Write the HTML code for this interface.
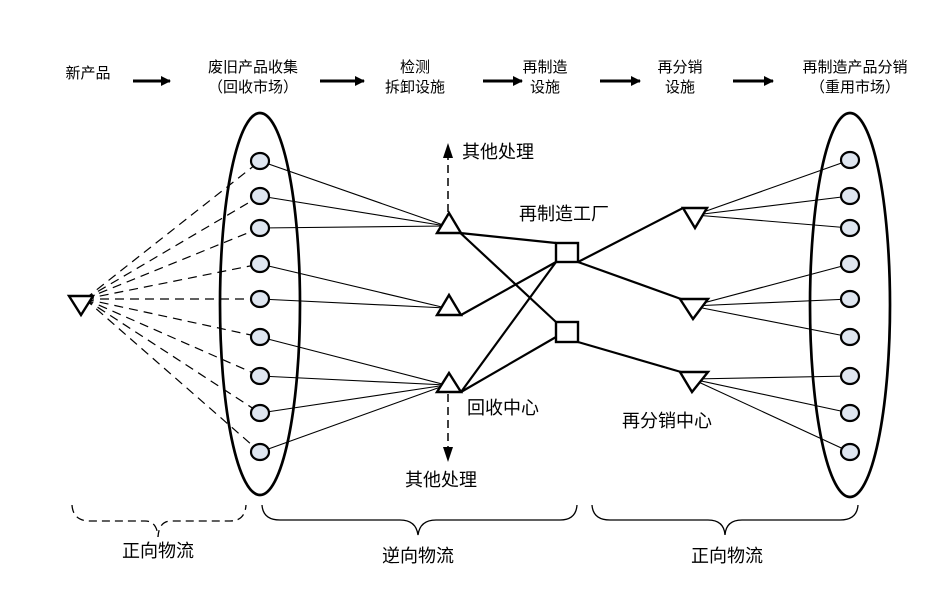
<!DOCTYPE html>
<html><head><meta charset="utf-8"><style>
html,body{margin:0;padding:0;background:#fff}
svg{display:block}
text{font-family:"Liberation Sans","Noto Sans CJK SC",sans-serif;fill:#000}
</style></head><body>
<svg width="939" height="610" viewBox="0 0 939 610" xmlns="http://www.w3.org/2000/svg">
<defs>
<marker id="ar" markerWidth="10" markerHeight="10" refX="9" refY="5" orient="auto" markerUnits="userSpaceOnUse"><path d="M0,0 L10,5 L0,10 z" fill="#000"/></marker>
</defs>
<g font-size="15" text-anchor="middle">
<text x="88" y="78">新产品</text>
<text x="253" y="72">废旧产品收集</text><text x="253" y="92">（回收市场）</text>
<text x="415" y="72">检测</text><text x="415" y="92">拆卸设施</text>
<text x="545" y="72">再制造</text><text x="545" y="92">设施</text>
<text x="680" y="72">再分销</text><text x="680" y="92">设施</text>
<text x="855" y="72">再制造产品分销</text><text x="855" y="92">（重用市场）</text>
</g>
<g stroke="#000" stroke-width="3" marker-end="url(#ar)">
<line x1="133" y1="81" x2="170" y2="81"/>
<line x1="320" y1="81" x2="364" y2="81"/>
<line x1="483" y1="81" x2="522" y2="81"/>
<line x1="600" y1="81" x2="640" y2="81"/>
<line x1="733" y1="81" x2="773" y2="81"/>
</g>
<ellipse cx="260" cy="304" rx="40" ry="191" fill="none" stroke="#000" stroke-width="2.7"/>
<ellipse cx="850" cy="305" rx="40" ry="192" fill="none" stroke="#000" stroke-width="2.7"/>
<g stroke="#000" stroke-width="1.2" stroke-dasharray="9,6" fill="none">
<line x1="85" y1="299" x2="260" y2="161"/>
<line x1="85" y1="299" x2="260" y2="196"/>
<line x1="85" y1="299" x2="260" y2="228"/>
<line x1="85" y1="299" x2="260" y2="264"/>
<line x1="85" y1="299" x2="260" y2="299"/>
<line x1="85" y1="299" x2="260" y2="337"/>
<line x1="85" y1="299" x2="260" y2="376"/>
<line x1="85" y1="299" x2="260" y2="413"/>
<line x1="85" y1="299" x2="260" y2="452"/>
</g>
<g stroke="#000" stroke-width="1.1">
<line x1="260" y1="161" x2="446" y2="226"/>
<line x1="260" y1="196" x2="446" y2="226"/>
<line x1="260" y1="228" x2="446" y2="226"/>
<line x1="260" y1="264" x2="446" y2="308"/>
<line x1="260" y1="299" x2="446" y2="308"/>
<line x1="260" y1="337" x2="446" y2="385"/>
<line x1="260" y1="376" x2="446" y2="385"/>
<line x1="260" y1="413" x2="446" y2="385"/>
<line x1="260" y1="452" x2="446" y2="385"/>
<line x1="850" y1="160" x2="695" y2="215"/>
<line x1="850" y1="196" x2="695" y2="215"/>
<line x1="850" y1="228" x2="695" y2="215"/>
<line x1="850" y1="264" x2="692" y2="306"/>
<line x1="850" y1="299" x2="692" y2="306"/>
<line x1="850" y1="337" x2="692" y2="306"/>
<line x1="850" y1="376" x2="692" y2="379"/>
<line x1="850" y1="413" x2="692" y2="379"/>
<line x1="850" y1="452" x2="692" y2="379"/>
</g>
<g fill="#dfe6f0" stroke="#000" stroke-width="2.2">
<ellipse cx="260" cy="161" rx="9" ry="8"/><ellipse cx="260" cy="196" rx="9" ry="8"/><ellipse cx="260" cy="228" rx="9" ry="8"/>
<ellipse cx="260" cy="264" rx="9" ry="8"/><ellipse cx="260" cy="299" rx="9" ry="8"/><ellipse cx="260" cy="337" rx="9" ry="8"/>
<ellipse cx="260" cy="376" rx="9" ry="8"/><ellipse cx="260" cy="413" rx="9" ry="8"/><ellipse cx="260" cy="452" rx="9" ry="8"/>
<ellipse cx="850" cy="160" rx="9" ry="8"/><ellipse cx="850" cy="196" rx="9" ry="8"/><ellipse cx="850" cy="228" rx="9" ry="8"/>
<ellipse cx="850" cy="264" rx="9" ry="8"/><ellipse cx="850" cy="299" rx="9" ry="8"/><ellipse cx="850" cy="337" rx="9" ry="8"/>
<ellipse cx="850" cy="376" rx="9" ry="8"/><ellipse cx="850" cy="413" rx="9" ry="8"/><ellipse cx="850" cy="452" rx="9" ry="8"/>
</g>
<g stroke="#000" stroke-width="2.2" fill="none">
<line x1="460" y1="233" x2="556" y2="243"/>
<line x1="455" y1="228" x2="556" y2="322"/>
<line x1="461" y1="315" x2="556" y2="262"/>
<line x1="461" y1="392" x2="556" y2="262"/>
<line x1="461" y1="392" x2="556" y2="337"/>
<line x1="578" y1="262" x2="683" y2="208"/>
<line x1="578" y1="262" x2="681" y2="299"/>
<line x1="578" y1="342" x2="681" y2="372"/>
</g>
<g fill="#fff" stroke="#000" stroke-width="2.4">
<polygon points="449,213 461,233 437,233"/>
<polygon points="449,295 461,315 437,315"/>
<polygon points="449,373 461,392 437,392"/>
<polygon points="683,208 707,208 695,228"/>
<polygon points="680,299 708,299 693,319"/>
<polygon points="680,372 708,372 692,392"/>
<polygon points="69,296 93,296 81,315"/>
<rect x="556" y="243" width="22" height="19"/>
<rect x="556" y="322" width="22" height="20"/>
</g>
<g stroke="#000" stroke-width="1.5" stroke-dasharray="8,5">
<line x1="448" y1="212" x2="448" y2="158"/>
<line x1="448" y1="394" x2="448" y2="448"/>
</g>
<polygon points="448,143 443,158 453,158" fill="#000"/>
<polygon points="448,462 443,447 453,447" fill="#000"/>
<g font-size="18">
<text x="462" y="158">其他处理</text>
<text x="405" y="486">其他处理</text>
<text x="519" y="220">再制造工厂</text>
<text x="467" y="414">回收中心</text>
<text x="622" y="427">再分销中心</text>
</g>
<path d="M72,505 Q73,521 90,521 L145,521 Q157,521 158,537 Q159,521 171,521 L230,521 Q245,521 246,505" fill="none" stroke="#000" stroke-width="1.3" stroke-dasharray="8,5"/>
<path d="M262,505 Q263,520 280,520 L400,520 Q416,520 418,535 Q420,520 436,520 L560,520 Q576,520 577,505" fill="none" stroke="#000" stroke-width="1.3"/>
<path d="M592,505 Q593,520 610,520 L708,520 Q724,520 725,535 Q726,520 742,520 L840,520 Q857,520 858,505" fill="none" stroke="#000" stroke-width="1.3"/>
<g font-size="18" text-anchor="middle">
<text x="158" y="557">正向物流</text>
<text x="418" y="562">逆向物流</text>
<text x="727" y="562">正向物流</text>
</g>
</svg>
</body></html>
